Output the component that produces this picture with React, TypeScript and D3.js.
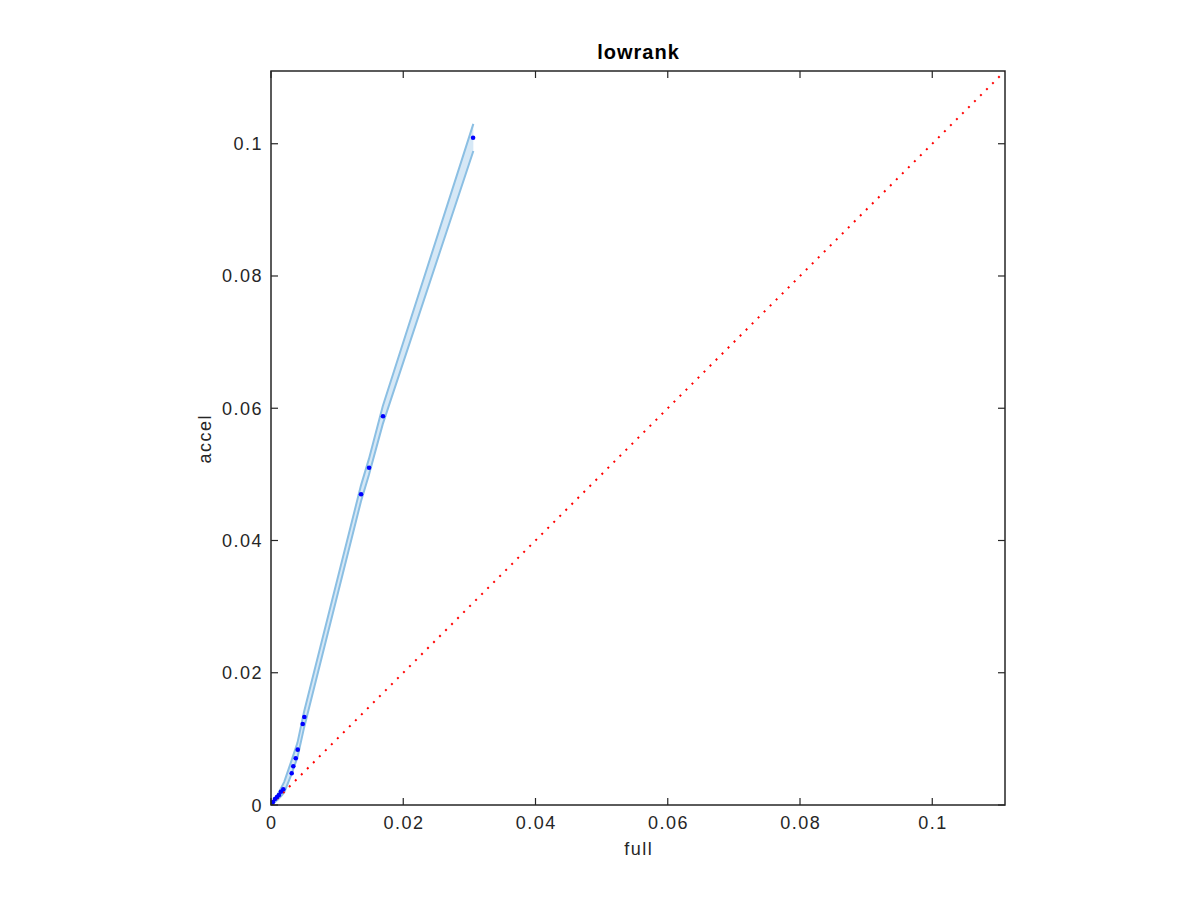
import React from "react";
import * as d3 from "d3";

const title = "lowrank";
const xLabel = "full";
const yLabel = "accel";
const xDomain: [number, number] = [0, 0.111];
const yDomain: [number, number] = [0, 0.111];
const tickValues = [0, 0.02, 0.04, 0.06, 0.08, 0.1];

const bandX = [0, 0.0005, 0.001, 0.0015, 0.002, 0.003, 0.004, 0.005, 0.0136, 0.0148, 0.0169, 0.0306];
const bandLo = [0, 0.0004, 0.0008, 0.0013, 0.0019, 0.0044, 0.0072, 0.0117, 0.0459, 0.0499, 0.0576, 0.0989];
const bandHi = [0, 0.0008, 0.0016, 0.0025, 0.0035, 0.0064, 0.0094, 0.0141, 0.0483, 0.0523, 0.0603, 0.1030];

const pointX = [0.0001, 0.0003, 0.0006, 0.0009, 0.0012, 0.0015, 0.00186, 0.00313, 0.00337, 0.00374, 0.00404, 0.0048, 0.00504, 0.01362, 0.01483, 0.01694, 0.03056];
const pointY = [0.0, 0.00045, 0.0009, 0.0012, 0.0015, 0.002, 0.00238, 0.0048, 0.00585, 0.00707, 0.00837, 0.01225, 0.01331, 0.047, 0.051, 0.0588, 0.1009];

const W = 1200;
const H = 900;
const left = 271;
const right = 1005;
const top = 71;
const bottom = 805;
const axisColor = "#262626";
const font = "'Liberation Sans', Arial, Helvetica, sans-serif";

export default function App() {
  const x = d3.scaleLinear().domain(xDomain).range([left, right]);
  const y = d3.scaleLinear().domain(yDomain).range([bottom, top]);

  const idx = bandX.map((_, i) => i);
  const area = d3
    .area<number>()
    .x((i) => x(bandX[i]))
    .y0((i) => y(bandLo[i]))
    .y1((i) => y(bandHi[i]));
  const loLine = d3.line<number>().x((i) => x(bandX[i])).y((i) => y(bandLo[i]));
  const hiLine = d3.line<number>().x((i) => x(bandX[i])).y((i) => y(bandHi[i]));

  const tickLen = 7;
  const fmt = d3.format("~g");

  return (
    <svg
      width={W}
      height={H}
      style={{ position: "absolute", left: 0, top: 0, background: "#fff" }}
    >
      <rect x={0} y={0} width={W} height={H} fill="#fff" />
      <defs>
        <clipPath id="plotclip">
          <rect x={left} y={top} width={right - left} height={bottom - top} />
        </clipPath>
      </defs>
      <g clipPath="url(#plotclip)">
        <path d={area(idx) || ""} fill="#d6e8f6" stroke="none" />
        <path d={loLine(idx) || ""} fill="none" stroke="#8bbfe3" strokeWidth={2} />
        <path d={hiLine(idx) || ""} fill="none" stroke="#8bbfe3" strokeWidth={2} />
        <line
          x1={x(xDomain[0])}
          y1={y(yDomain[0])}
          x2={x(xDomain[1])}
          y2={y(yDomain[1])}
          stroke="#ff0000"
          strokeWidth={2}
          strokeDasharray="2,6.5"
        />
        {pointX.map((px, i) => (
          <circle key={i} cx={x(px)} cy={y(pointY[i])} r={2.3} fill="#0000ff" />
        ))}
      </g>
      <rect
        x={left}
        y={top}
        width={right - left}
        height={bottom - top}
        fill="none"
        stroke={axisColor}
        strokeWidth={1.5}
      />
      {tickValues.map((t) => (
        <g key={"x" + t}>
          <line x1={x(t)} x2={x(t)} y1={bottom} y2={bottom - tickLen} stroke={axisColor} strokeWidth={1.2} />
          <line x1={x(t)} x2={x(t)} y1={top} y2={top + tickLen} stroke={axisColor} strokeWidth={1.2} />
          <text
            x={x(t) + 0.75}
            y={829}
            textAnchor="middle"
            fontFamily={font}
            fontSize={18}
            letterSpacing={1.5}
            fill={axisColor}
          >
            {fmt(t)}
          </text>
        </g>
      ))}
      {tickValues.map((t) => (
        <g key={"y" + t}>
          <line x1={left} x2={left + tickLen} y1={y(t)} y2={y(t)} stroke={axisColor} strokeWidth={1.2} />
          <line x1={right} x2={right - tickLen} y1={y(t)} y2={y(t)} stroke={axisColor} strokeWidth={1.2} />
          <text
            x={263}
            y={y(t) + 6.5}
            textAnchor="end"
            fontFamily={font}
            fontSize={18}
            letterSpacing={1.5}
            fill={axisColor}
          >
            {fmt(t)}
          </text>
        </g>
      ))}
      <text
        x={(left + right) / 2 + 0.5}
        y={59}
        textAnchor="middle"
        fontFamily={font}
        fontSize={20}
        fontWeight="bold"
        letterSpacing={1}
        fill="#000"
      >
        {title}
      </text>
      <text
        x={(left + right) / 2 + 0.75}
        y={855}
        textAnchor="middle"
        fontFamily={font}
        fontSize={18}
        letterSpacing={1.5}
        fill={axisColor}
      >
        {xLabel}
      </text>
      <text
        transform={`translate(211, ${(top + bottom) / 2 + 0.75}) rotate(-90)`}
        textAnchor="middle"
        fontFamily={font}
        fontSize={18}
        letterSpacing={1.5}
        fill={axisColor}
      >
        {yLabel}
      </text>
    </svg>
  );
}
